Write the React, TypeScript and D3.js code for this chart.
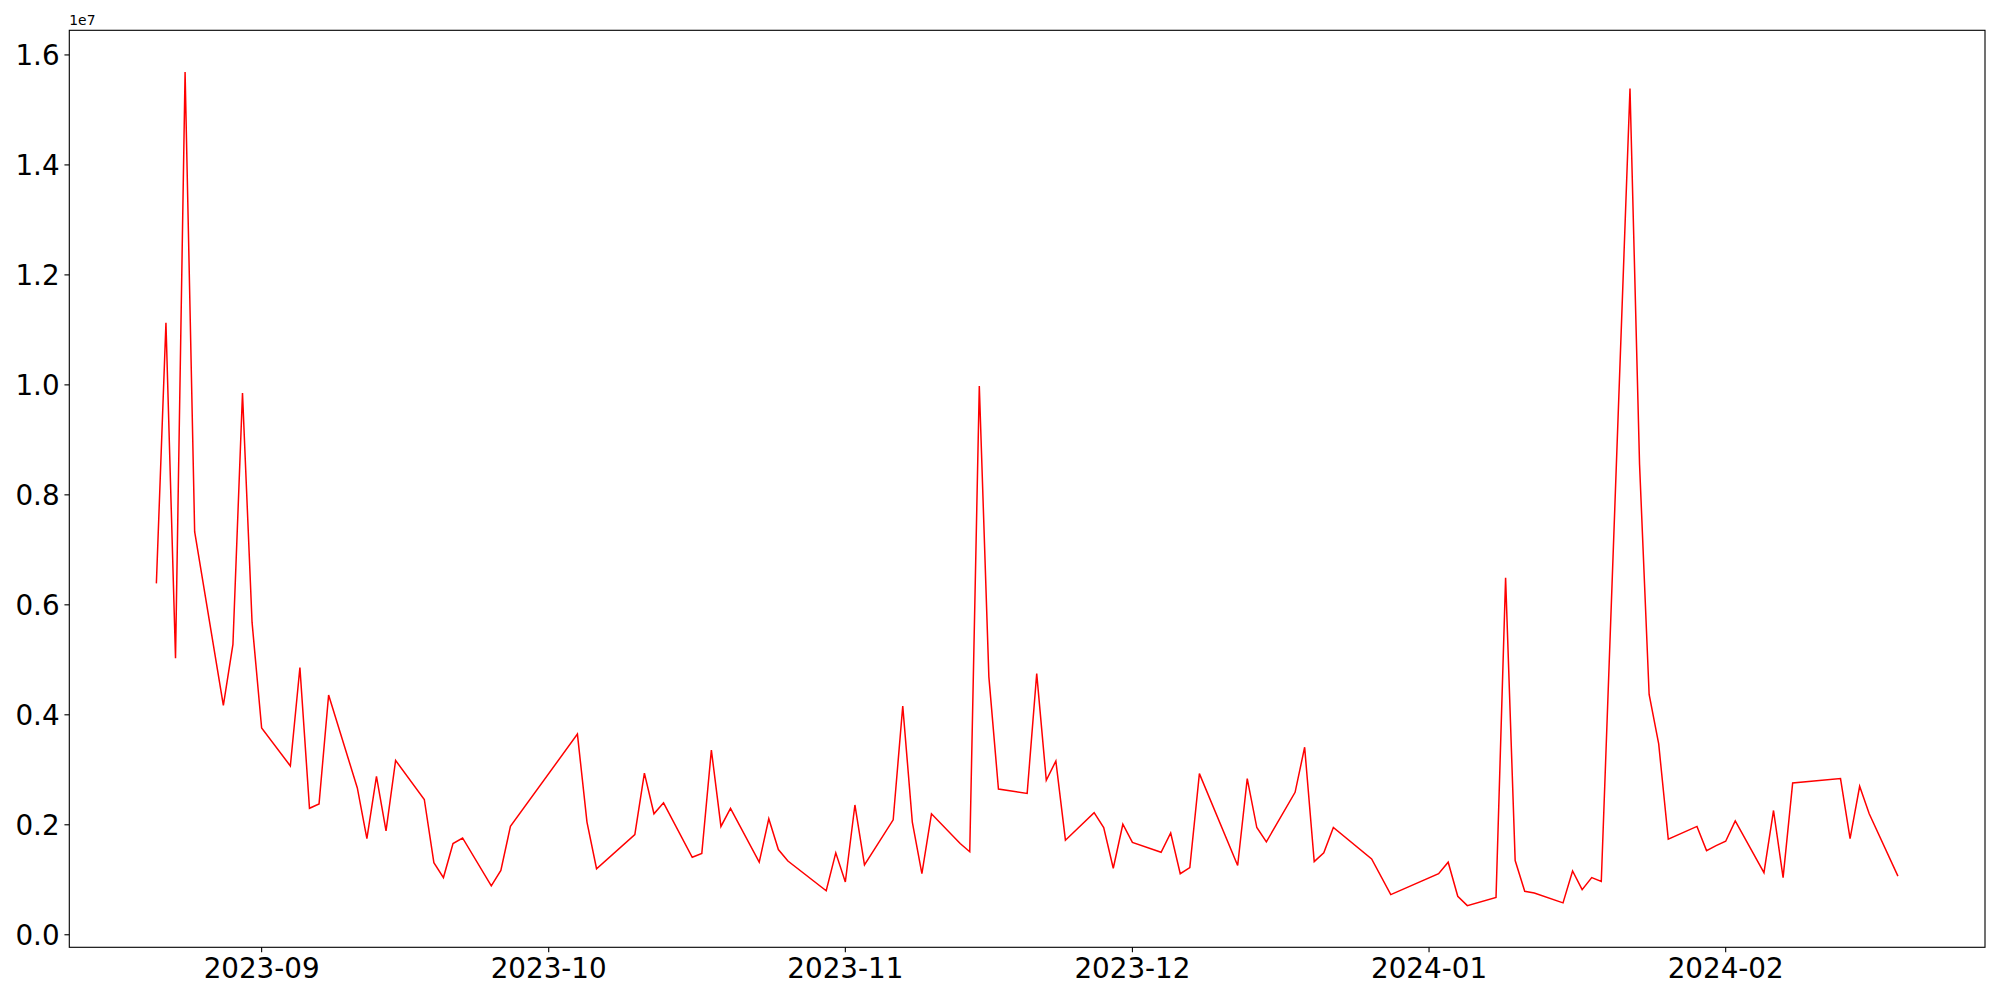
import React from "react";
import * as d3 from "d3";

const dates: string[] = [
  "2023-08-21","2023-08-22","2023-08-23","2023-08-24","2023-08-25",
  "2023-08-28","2023-08-29","2023-08-30","2023-08-31","2023-09-01",
  "2023-09-04","2023-09-05","2023-09-06","2023-09-07","2023-09-08",
  "2023-09-11","2023-09-12","2023-09-13","2023-09-14","2023-09-15",
  "2023-09-18","2023-09-19","2023-09-20","2023-09-21","2023-09-22",
  "2023-09-25","2023-09-26","2023-09-27",
  "2023-10-04","2023-10-05","2023-10-06",
  "2023-10-10","2023-10-11","2023-10-12","2023-10-13",
  "2023-10-16","2023-10-17","2023-10-18","2023-10-19","2023-10-20",
  "2023-10-23","2023-10-24","2023-10-25","2023-10-26",
  "2023-10-30","2023-10-31","2023-11-01","2023-11-02","2023-11-03",
  "2023-11-06","2023-11-07","2023-11-08","2023-11-09","2023-11-10",
  "2023-11-13","2023-11-14","2023-11-15","2023-11-16","2023-11-17",
  "2023-11-20","2023-11-21","2023-11-22","2023-11-23","2023-11-24",
  "2023-11-27","2023-11-28","2023-11-29","2023-11-30","2023-12-01",
  "2023-12-04","2023-12-05","2023-12-06","2023-12-07","2023-12-08",
  "2023-12-12","2023-12-13","2023-12-14","2023-12-15",
  "2023-12-18","2023-12-19","2023-12-20","2023-12-21","2023-12-22",
  "2023-12-26","2023-12-28",
  "2024-01-02","2024-01-03","2024-01-04","2024-01-05",
  "2024-01-08","2024-01-09","2024-01-10","2024-01-11","2024-01-12",
  "2024-01-15","2024-01-16","2024-01-17","2024-01-18","2024-01-19",
  "2024-01-22","2024-01-23","2024-01-24","2024-01-25","2024-01-26",
  "2024-01-29","2024-01-30","2024-01-31","2024-02-01","2024-02-02",
  "2024-02-05","2024-02-06","2024-02-07","2024-02-08",
  "2024-02-13","2024-02-14","2024-02-15","2024-02-16",
  "2024-02-19",
];

// values in units of 1e7
const values: number[] = [
  0.639, 1.113, 0.503, 1.569, 0.733,
  0.417, 0.528, 0.985, 0.568, 0.376,
  0.307, 0.486, 0.230, 0.238, 0.436,
  0.267, 0.175, 0.288, 0.189, 0.317,
  0.246, 0.131, 0.104, 0.166, 0.176,
  0.089, 0.117, 0.197,
  0.365, 0.205, 0.120,
  0.182, 0.294, 0.220, 0.240,
  0.141, 0.148, 0.336, 0.197, 0.230,
  0.132, 0.211, 0.155, 0.134,
  0.080, 0.149, 0.096, 0.236, 0.127,
  0.209, 0.416, 0.205, 0.111, 0.220,
  0.166, 0.151, 0.998, 0.469, 0.265,
  0.257, 0.475, 0.281, 0.316, 0.172,
  0.222, 0.195, 0.121, 0.201, 0.168,
  0.150, 0.185, 0.111, 0.122, 0.293,
  0.126, 0.284, 0.195, 0.169,
  0.259, 0.341, 0.133, 0.149, 0.195,
  0.138, 0.073,
  0.111, 0.132, 0.070, 0.053,
  0.068, 0.649, 0.135, 0.079, 0.076,
  0.058, 0.116, 0.082, 0.104, 0.097,
  1.539, 0.855, 0.437, 0.347, 0.174,
  0.197, 0.153, 0.162, 0.170, 0.207,
  0.113, 0.226, 0.104, 0.276,
  0.284, 0.175, 0.270, 0.220,
  0.1066,
];

const yTicks: number[] = [0, 0.2e7, 0.4e7, 0.6e7, 0.8e7, 1.0e7, 1.2e7, 1.4e7, 1.6e7];
const xTickDates: string[] = ["2023-09-01", "2023-10-01", "2023-11-01", "2023-12-01", "2024-01-01", "2024-02-01"];

const W = 2000;
const H = 1000;
const left = 69.3;
const right = 1985;
const top = 30.3;
const bottom = 947.3;
const FONT = "'DejaVu Sans', sans-serif";

export default function App() {
  const parse = d3.utcParse("%Y-%m-%d");
  const data = dates.map((d, i) => ({ date: parse(d) as Date, value: values[i] * 1e7 }));

  const [xmin, xmax] = d3.extent(data, (d) => +d.date) as [number, number];
  const xpad = (xmax - xmin) * 0.05;
  const x = d3.scaleUtc().domain([new Date(xmin - xpad), new Date(xmax + xpad)]).range([left, right]);

  const [ymin, ymax] = d3.extent(data, (d) => d.value) as [number, number];
  const ypad = (ymax - ymin) * 0.05;
  const y = d3.scaleLinear().domain([ymin - ypad, ymax + ypad]).range([bottom, top]);

  const line = d3
    .line<{ date: Date; value: number }>()
    .x((d) => x(d.date))
    .y((d) => y(d.value));

  const fmt = d3.utcFormat("%Y-%m");
  const tickLen = 4.86;
  const pad = 4.86;
  const fs = 27.78;

  return (
    <svg width={W} height={H} style={{ position: "absolute", left: 0, top: 0, background: "#fff" }}>
      <rect x={0} y={0} width={W} height={H} fill="#fff" />
      <defs>
        <clipPath id="plotclip">
          <rect x={left} y={top} width={right - left} height={bottom - top} />
        </clipPath>
      </defs>
      <path d={line(data) || ""} fill="none" stroke="#ff0000" strokeWidth={1.5} strokeLinejoin="miter" clipPath="url(#plotclip)" />
      <rect x={left} y={top} width={right - left} height={bottom - top} fill="none" stroke="#000" strokeWidth={1.11} />
      {yTicks.map((t) => (
        <g key={"y" + t}>
          <line x1={left - tickLen} x2={left} y1={y(t)} y2={y(t)} stroke="#000" strokeWidth={1.11} />
          <text
            x={left - tickLen - pad}
            y={y(t)}
            dy={fs * 0.36}
            textAnchor="end"
            fontFamily={FONT}
            fontSize={fs}
            fill="#000"
          >
            {(t / 1e7).toFixed(1)}
          </text>
        </g>
      ))}
      {xTickDates.map((s) => {
        const d = parse(s) as Date;
        const xx = x(d);
        return (
          <g key={"x" + s}>
            <line x1={xx} x2={xx} y1={bottom} y2={bottom + tickLen} stroke="#000" strokeWidth={1.11} />
            <text
              x={xx}
              y={bottom + tickLen + pad + fs * 0.76}
              textAnchor="middle"
              fontFamily={FONT}
              fontSize={fs}
              fill="#000"
            >
              {fmt(d)}
            </text>
          </g>
        );
      })}
      <text x={left} y={top - 5} fontFamily={FONT} fontSize={13.89} fill="#000">
        1e7
      </text>
    </svg>
  );
}
